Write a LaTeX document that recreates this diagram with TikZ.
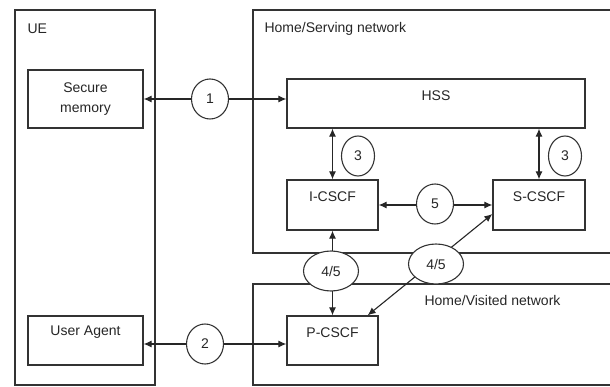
\documentclass[tikz,border=0pt]{standalone}
\usepackage{fontspec}
\setmainfont{Liberation Sans}
\usetikzlibrary{arrows.meta,shapes.geometric}

\tikzset{
  every node/.style={font=\fontsize{14}{20}\selectfont, text=black!85},
  frame/.style={draw=black!80, line width=1.4pt, inner sep=0pt},
  unit/.style={draw=black!80, line width=1.3pt, inner sep=0pt, fill=white},
  caption/.style={label={[anchor=center, yshift=-17pt, inner sep=0pt]north:#1}},
  tag/.style={draw=black!80, line width=1.1pt, ellipse, fill=white, inner sep=0pt,
              minimum width=37pt, minimum height=40pt},
  wide tag/.style={tag, minimum width=55pt},
  link/.style={draw=black!85, line width=1.1pt, <->, >={Latex[length=8pt, width=7pt]}},
}

\begin{document}
\begin{tikzpicture}[x=1pt, y=-1pt]
  \useasboundingbox (0,0) rectangle (610,387);

  % outer domains
  \node[frame, minimum width=140pt, minimum height=375pt] (ue) at (85,197.5) {};
  \node[frame, minimum width=367pt, minimum height=243pt] (serving) at (436.5,131.5) {};
  \node[frame, minimum width=367pt, minimum height=101pt] (visited) at (436.5,334.5) {};

  \node[anchor=west] (uelbl) at (24,29) {UE};
  \node[anchor=west] (servlbl) at (261,29) {Home/Serving network};
  \node[anchor=west] (vislbl) at (421,300) {Home/Visited network};

  % functional entities
  \node[unit, minimum width=115pt, minimum height=58pt, align=center] (mem) at (85.5,99) {Secure\\memory};
  \node[unit, minimum width=115pt, minimum height=49pt, caption={User Agent}] (ua) at (85.5,340.5) {};
  \node[unit, minimum width=298pt, minimum height=49pt, caption={HSS}] (hss) at (436,103.5) {};
  \node[unit, minimum width=91pt, minimum height=50pt, caption={I-CSCF}] (icscf) at (332.5,205) {};
  \node[unit, minimum width=92pt, minimum height=50pt, caption={S-CSCF}] (scscf) at (539,205) {};
  \node[unit, minimum width=91pt, minimum height=49pt, caption={P-CSCF}] (pcscf) at (332.5,340.5) {};

  % reference point positions
  \coordinate (p1) at (210,99);
  \coordinate (p2) at (205,344);
  \coordinate (p45a) at (331,271);
  \coordinate (p45b) at (436,264);

  % interfaces
  \draw[link] (mem.east |- p1) -- (p1 -| hss.west);
  \draw[link] (ua.east |- p2) -- (p2 -| pcscf.west);
  \draw[link] (hss.south -| icscf.north) -- (icscf.north);
  \draw[link] (hss.south -| scscf.north) -- (scscf.north);
  \draw[link] (icscf.east) -- (scscf.west);
  \draw[link] (icscf.south) -- (pcscf.north);
  \draw[link] ([xshift=-11pt]pcscf.north east) -- ([yshift=-9pt]scscf.west);

  % interface numbers
  \node[tag] (n1) at (p1) {1};
  \node[tag] (n2) at (p2) {2};
  \node[tag, minimum width=33pt] (n3a) at (358,156) {3};
  \node[tag, minimum width=33pt] (n3b) at (565,156) {3};
  \node[tag] (n5) at (435,204) {5};
  \node[wide tag] (n45a) at (p45a) {4/5};
  \node[wide tag] (n45b) at (p45b) {4/5};
\end{tikzpicture}
\end{document}
